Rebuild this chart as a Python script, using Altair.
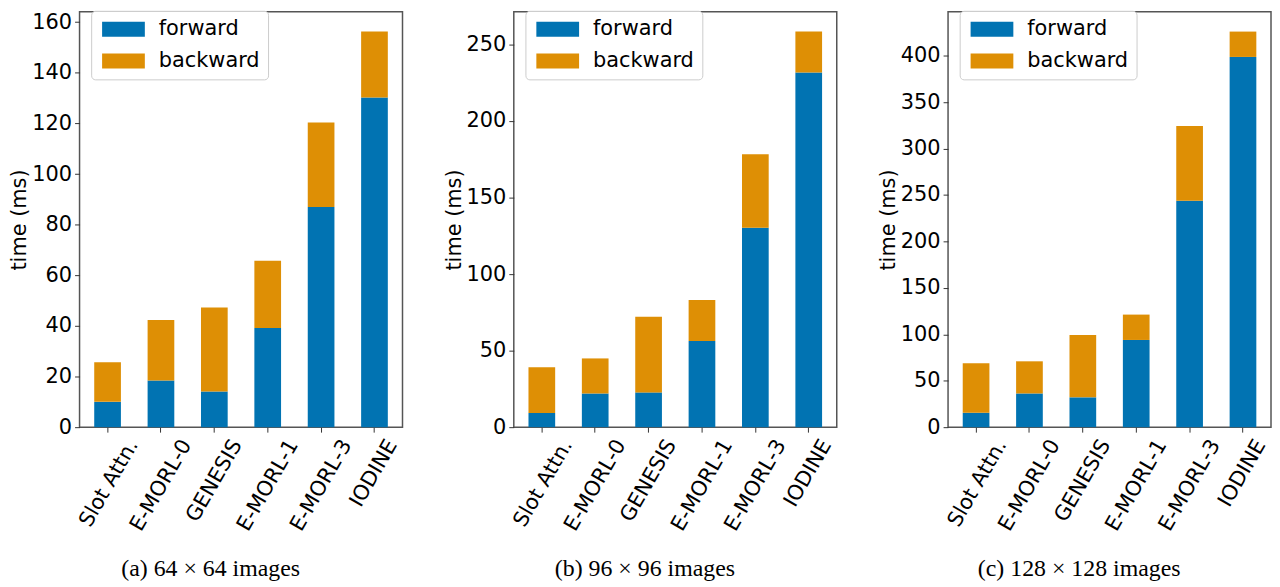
import altair as alt
import pandas as pd

# ---------------- data ----------------
methods = ["Slot Attn.", "E-MORL-0", "GENESIS", "E-MORL-1", "E-MORL-3", "IODINE"]
series = ["forward", "backward"]

fwd_64 = [10.0, 18.4, 14.1, 39.2, 87.0, 130.2]
bwd_64 = [15.6, 23.9, 33.2, 26.5, 33.4, 26.1]

fwd_96 = [9.3, 22.0, 22.7, 56.3, 130.3, 231.7]
bwd_96 = [29.9, 22.9, 49.5, 26.7, 48.0, 26.7]

fwd_128 = [15.4, 36.3, 32.1, 93.9, 243.7, 398.6]
bwd_128 = [53.4, 34.6, 67.1, 27.3, 80.6, 27.3]

captions = ["(a) 64 × 64 images", "(b) 96 × 96 images", "(c) 128 × 128 images"]
ticks_64 = [0, 20, 40, 60, 80, 100, 120, 140, 160]
ticks_96 = [0, 50, 100, 150, 200, 250]
ticks_128 = [0, 50, 100, 150, 200, 250, 300, 350, 400]
ymax = [164.1, 271.3, 447.2]

# ---------------- style ----------------
colors = ["#0173b2", "#de8f05"]
FONT = "DejaVu Sans"
label_shift = {"Slot Attn.": 26, "E-MORL-0": 26, "GENESIS": 23,
               "E-MORL-1": 26, "E-MORL-3": 26, "IODINE": 18}
label_offset = {
    "condition": [{"test": f"datum.label === '{k}'", "value": v}
                  for k, v in label_shift.items()],
    "value": 24,
}


def panel(fwd, bwd, caption, ticks, top):
    df = pd.DataFrame({
        "method": methods + methods,
        "series": ["forward"] * len(methods) + ["backward"] * len(methods),
        "time": fwd + bwd,
        "k": [0] * len(methods) + [1] * len(methods),
    })
    return alt.Chart(
        df,
        title=alt.TitleParams(
            caption, orient="bottom", anchor="middle", frame="bounds",
            font="Liberation Serif", fontSize=24, fontWeight="normal",
            color="black", offset=23, dx=5,
        ),
    ).mark_bar().encode(
        x=alt.X(
            "method:N", sort=methods,
            scale=alt.Scale(paddingInner=0.5, paddingOuter=0.275),
            axis=alt.Axis(
                title=None, labelAngle=300, labelAlign="right",
                labelBaseline="middle", labelOffset=label_offset,
                labelPadding=9, tickSize=5, domain=False,
                labelFont=FONT, labelFontSize=21, labelColor="black",
                tickColor="#333333", labelLimit=300,
            ),
        ),
        y=alt.Y(
            "time:Q", stack="zero",
            scale=alt.Scale(domain=[0, top], nice=False),
            axis=alt.Axis(
                title="time (ms)", values=ticks, grid=False, domain=False,
                tickSize=5, labelPadding=3, titlePadding=2,
                labelFont=FONT, labelFontSize=21, labelColor="black",
                titleFont=FONT, titleFontSize=21, titleFontWeight="normal",
                titleColor="black", tickColor="#333333",
            ),
        ),
        color=alt.Color(
            "series:N",
            scale=alt.Scale(domain=series, range=colors),
            legend=alt.Legend(
                title=None, orient="none", legendX=11.7, legendY=-1,
                padding=8, rowPadding=10,
                symbolType="M-2.867,-1H2.867V1H-2.867Z", symbolSize=225,
                symbolOffset=14, labelOffset=25,
                symbolStrokeWidth=0, labelFont=FONT, labelFontSize=21,
                labelColor="black", fillColor="white", strokeColor="#cccccc",
                cornerRadius=4, labelLimit=300,
            ),
        ),
        order=alt.Order("k:Q"),
    ).properties(width=325, height=418)


chart = alt.hconcat(
    panel(fwd_64, bwd_64, captions[0], ticks_64, ymax[0]),
    panel(fwd_96, bwd_96, captions[1], ticks_96, ymax[1]),
    panel(fwd_128, bwd_128, captions[2], ticks_128, ymax[2]),
    spacing=39,
).resolve_legend(color="independent").resolve_scale(y="independent").configure_view(
    stroke="#555555", strokeWidth=1.5
).properties(
    padding={"left": 0, "top": -1, "right": 0, "bottom": 0}
)

chart.save("out.html", embed_options={"renderer": "svg", "actions": False})
